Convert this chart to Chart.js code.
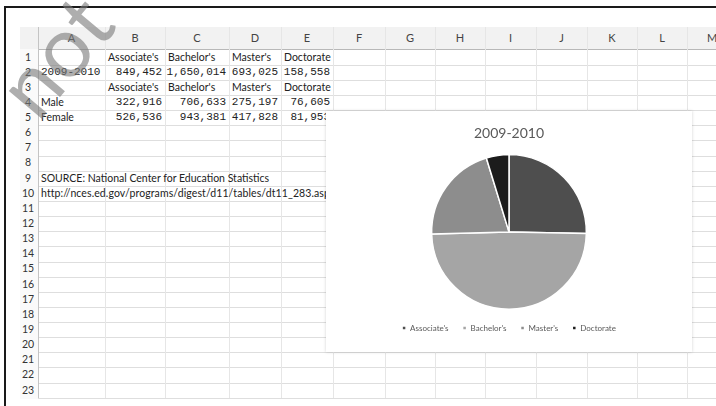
<!DOCTYPE html>
<html><head><meta charset="utf-8">
<script src="https://cdn.jsdelivr.net/npm/chart.js@4/dist/chart.umd.min.js"></script>
<style>
html,body{margin:0;padding:0;background:#fff;}
#page{position:relative;width:716px;height:406px;overflow:hidden;background:#fff;}
.a{position:absolute;white-space:nowrap;}
.txt{font-family:Lato,'Open Sans',sans-serif;font-size:10.5px;color:#222;}
.num{font-family:'Liberation Mono','DejaVu Sans Mono',monospace;font-size:11px;color:#222;}
.hdr{font-family:Lato,sans-serif;font-size:11px;color:#444;text-align:center;}
</style></head>
<body><div id="page"></div>
<script>
// ---- data ----
const columnLetters = ['A','B','C','D','E','F','G','H','I','J','K','L','M'];
const categories = ["Associate's", "Bachelor's", "Master's", "Doctorate"];
const totals2009 = [849452, 1650014, 693025, 158558];
const maleValues = [322916, 706633, 275197, 76605];
const femaleValues = [526536, 943381, 417828, 81953];
const rowLabels = ['2009-2010', 'Male', 'Female'];
const chartTitle = '2009-2010';
const sourceLines = ['SOURCE: National Center for Education Statistics',
                     'http://nces.ed.gov/programs/digest/d11/tables/dt11_283.asp'];

// ---- layout ----
const page = document.getElementById('page');
const colEdges = [38,105,165,229,281,333,385,435,485,536,587,637,687,737];
const rowH = 15.14, row1Top = 49.5, nRows = 23;
const rowTop = n => row1Top + (n-1)*rowH;

function el(cls, style, text){
  const d = document.createElement('div');
  d.className = 'a ' + cls;
  Object.assign(d.style, style);
  if (text !== undefined) d.textContent = text;
  page.appendChild(d);
  return d;
}
// header band
el('', {left:'20px', top:'27px', width:'700px', height:'22px', background:'#f2f2f2', borderBottom:'1px solid #b8b8b8'});
el('', {left:'20px', top:'49px', width:'18px', height:'350px', background:'#fafafa'});
// grid lines
for (let n=1; n<=nRows; n++){
  el('', {left:'38px', top:(rowTop(n)+rowH).toFixed(1)+'px', width:'690px', height:'1px', background:'#dedede'});
}
for (let c=0; c<colEdges.length; c++){
  el('', {left:colEdges[c]+'px', top:'27px', width:'1px', height:'371px', background:(c===0?'#c4c4c4':'#e6e6e6')});
}
// column letters
columnLetters.forEach((L,i)=>{
  el('hdr', {left:colEdges[i]+'px', width:(colEdges[i+1]-colEdges[i])+'px', top:'27px', height:'22px', lineHeight:'22px'}, L);
});
// row numbers
for (let n=1; n<=nRows; n++){
  el('hdr', {left:'18px', width:'20px', top:rowTop(n)+'px', height:rowH+'px', lineHeight:rowH+'px', fontSize:'10.5px', color:'#333'}, String(n));
}
function cellText(r, c, text, cls, align){
  const s = {top:rowTop(r)+'px', height:rowH+'px', lineHeight:rowH+'px'};
  if (align==='right'){ s.right = (716 - colEdges[c+1] + 3)+'px'; }
  else { s.left = (colEdges[c]+3)+'px'; }
  return el(cls, s, text);
}
const fmt = v => v.toLocaleString('en-US');
categories.forEach((cat,i)=>{ cellText(1, i+1, cat, 'txt'); cellText(3, i+1, cat, 'txt'); });
cellText(2, 0, rowLabels[0], 'num');
cellText(4, 0, rowLabels[1], 'txt');
cellText(5, 0, rowLabels[2], 'txt');
totals2009.forEach((v,i)=>cellText(2, i+1, fmt(v), 'num', 'right'));
maleValues.forEach((v,i)=>cellText(4, i+1, fmt(v), 'num', 'right'));
femaleValues.forEach((v,i)=>cellText(5, i+1, fmt(v), 'num', 'right'));
cellText(9, 0, sourceLines[0], 'txt');
cellText(10, 0, sourceLines[1], 'txt').style.letterSpacing = '0.1px';

// frame
el('', {left:'4px', top:'6px', width:'720px', height:'2px', background:'#1a1a1a'});
el('', {left:'4px', top:'6px', width:'2px', height:'410px', background:'#1a1a1a'});

// watermark
el('', {left:'-10px', top:'3px', width:'126px', height:'102px', fontFamily:'Lato,sans-serif', fontSize:'85px', fontWeight:'400', color:'rgba(120,120,120,0.6)', transform:'rotate(-50deg)', transformOrigin:'50% 50%', lineHeight:'102px', textAlign:'center'}, 'not');

// chart box
const box = el('', {left:'326px', top:'111px', width:'366px', height:'241px', background:'#fff', boxShadow:'0 0 3px rgba(0,0,0,0.18)'});
const cv = document.createElement('canvas');
cv.width = 366; cv.height = 241;
cv.style.width = '366px'; cv.style.height = '241px';
box.appendChild(cv);

new Chart(cv.getContext('2d'), {
  type: 'pie',
  data: {
    labels: categories,
    datasets: [{
      data: totals2009,
      backgroundColor: ['#4e4e4e', '#a5a5a5', '#8d8d8d', '#1c1c1c'],
      borderColor: '#ffffff',
      borderWidth: 1.5
    }]
  },
  options: {
    responsive: false,
    animation: false,
    devicePixelRatio: 1,
    layout: { padding: { top: 2, bottom: 10 } },
    plugins: {
      title: { display: true, text: chartTitle, color: '#595959',
               font: { family: 'Lato', size: 14, weight: 'normal' },
               padding: { top: 12, bottom: 12 } },
      legend: { position: 'bottom',
                labels: { usePointStyle: true, pointStyle: 'rect', boxWidth: 4, boxHeight: 4,
                          color: '#595959', font: { family: 'Lato', size: 8 }, padding: 14 } },
      tooltip: { enabled: false }
    }
  }
});
</script>
</body></html>
